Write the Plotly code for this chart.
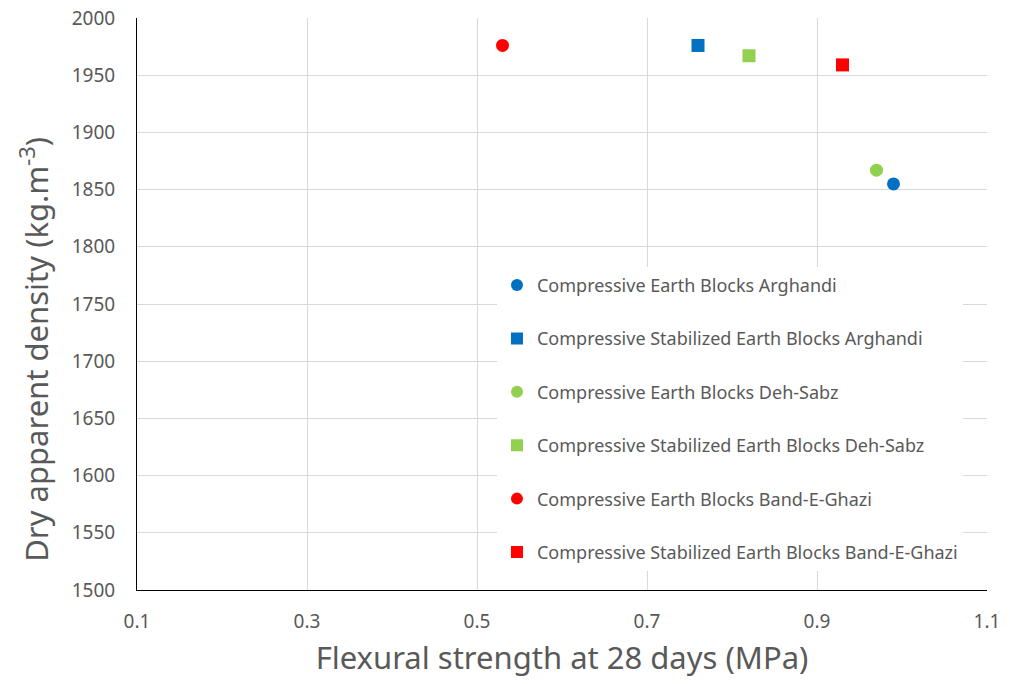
import plotly.graph_objects as go

# values
names = [
    "Compressive Earth Blocks Arghandi",
    "Compressive Stabilized Earth Blocks Arghandi",
    "Compressive Earth Blocks Deh-Sabz",
    "Compressive Stabilized Earth Blocks Deh-Sabz",
    "Compressive Earth Blocks Band-E-Ghazi",
    "Compressive Stabilized Earth Blocks Band-E-Ghazi",
]
flexural = [0.99, 0.76, 0.97, 0.82, 0.53, 0.93]
density = [1855, 1976, 1867, 1967, 1976, 1959]
colors = ["#0070C0", "#0070C0", "#92D050", "#92D050", "#FF0000", "#FF0000"]
symbols = ["circle", "square", "circle", "square", "circle", "square"]

x_ticks = [0.1, 0.3, 0.5, 0.7, 0.9, 1.1]
y_ticks = list(range(1500, 2001, 50))

font = "Noto Sans"
grey = "#595959"

fig = go.Figure()
for i in range(len(names)):
    fig.add_trace(go.Scatter(
        x=[flexural[i]], y=[density[i]],
        mode="markers", name=names[i], legendgroup=str(i),
        marker=dict(color=colors[i], symbol=symbols[i], size=13),
    ))

fig.update_layout(
    width=1010, height=684,
    paper_bgcolor="white", plot_bgcolor="white",
    margin=dict(l=137, r=23, t=18, b=94),
    font=dict(family=font, color=grey),
    legend=dict(
        x=0.4235, y=0.565, xanchor="left", yanchor="top",
        bgcolor="white", font=dict(size=18, color=grey),
        traceorder="grouped", tracegroupgap=27,
        itemsizing="constant",
    ),
    showlegend=True,
)
# y title placed as an annotation: in the reference it sits lower than centre
fig.add_annotation(
    text="Dry apparent density (kg.m<sup>-3</sup>)",
    xref="paper", yref="paper", x=-0.12, y=0.42,
    xanchor="center", yanchor="middle", textangle=-90,
    showarrow=False, font=dict(size=31, color=grey),
)
fig.update_xaxes(
    range=[0.1, 1.1], tickvals=x_ticks, ticktext=[str(v) for v in x_ticks],
    showgrid=True, gridcolor="#d9d9d9", gridwidth=1,
    showline=True, linecolor="black", linewidth=1,
    zeroline=False, ticks="", tickfont=dict(size=19, color=grey),
    ticklabelstandoff=14, automargin=False, ticklabeloverflow="allow",
    title=dict(text="Flexural strength at 28 days (MPa)", font=dict(size=31, color=grey), standoff=14),
)
fig.update_yaxes(
    range=[1500, 2000], tickvals=y_ticks,
    showgrid=True, gridcolor="#d9d9d9", gridwidth=1,
    showline=True, linecolor="black", linewidth=1,
    zeroline=False, ticks="", tickfont=dict(size=19, color=grey),
    ticklabelstandoff=17, automargin=False, ticklabeloverflow="allow",
)

# drop the default page margin so the figure fills the window exactly
fig.write_html("out.html", config={"displayModeBar": False},
               post_script="document.body.style.margin='0';")
